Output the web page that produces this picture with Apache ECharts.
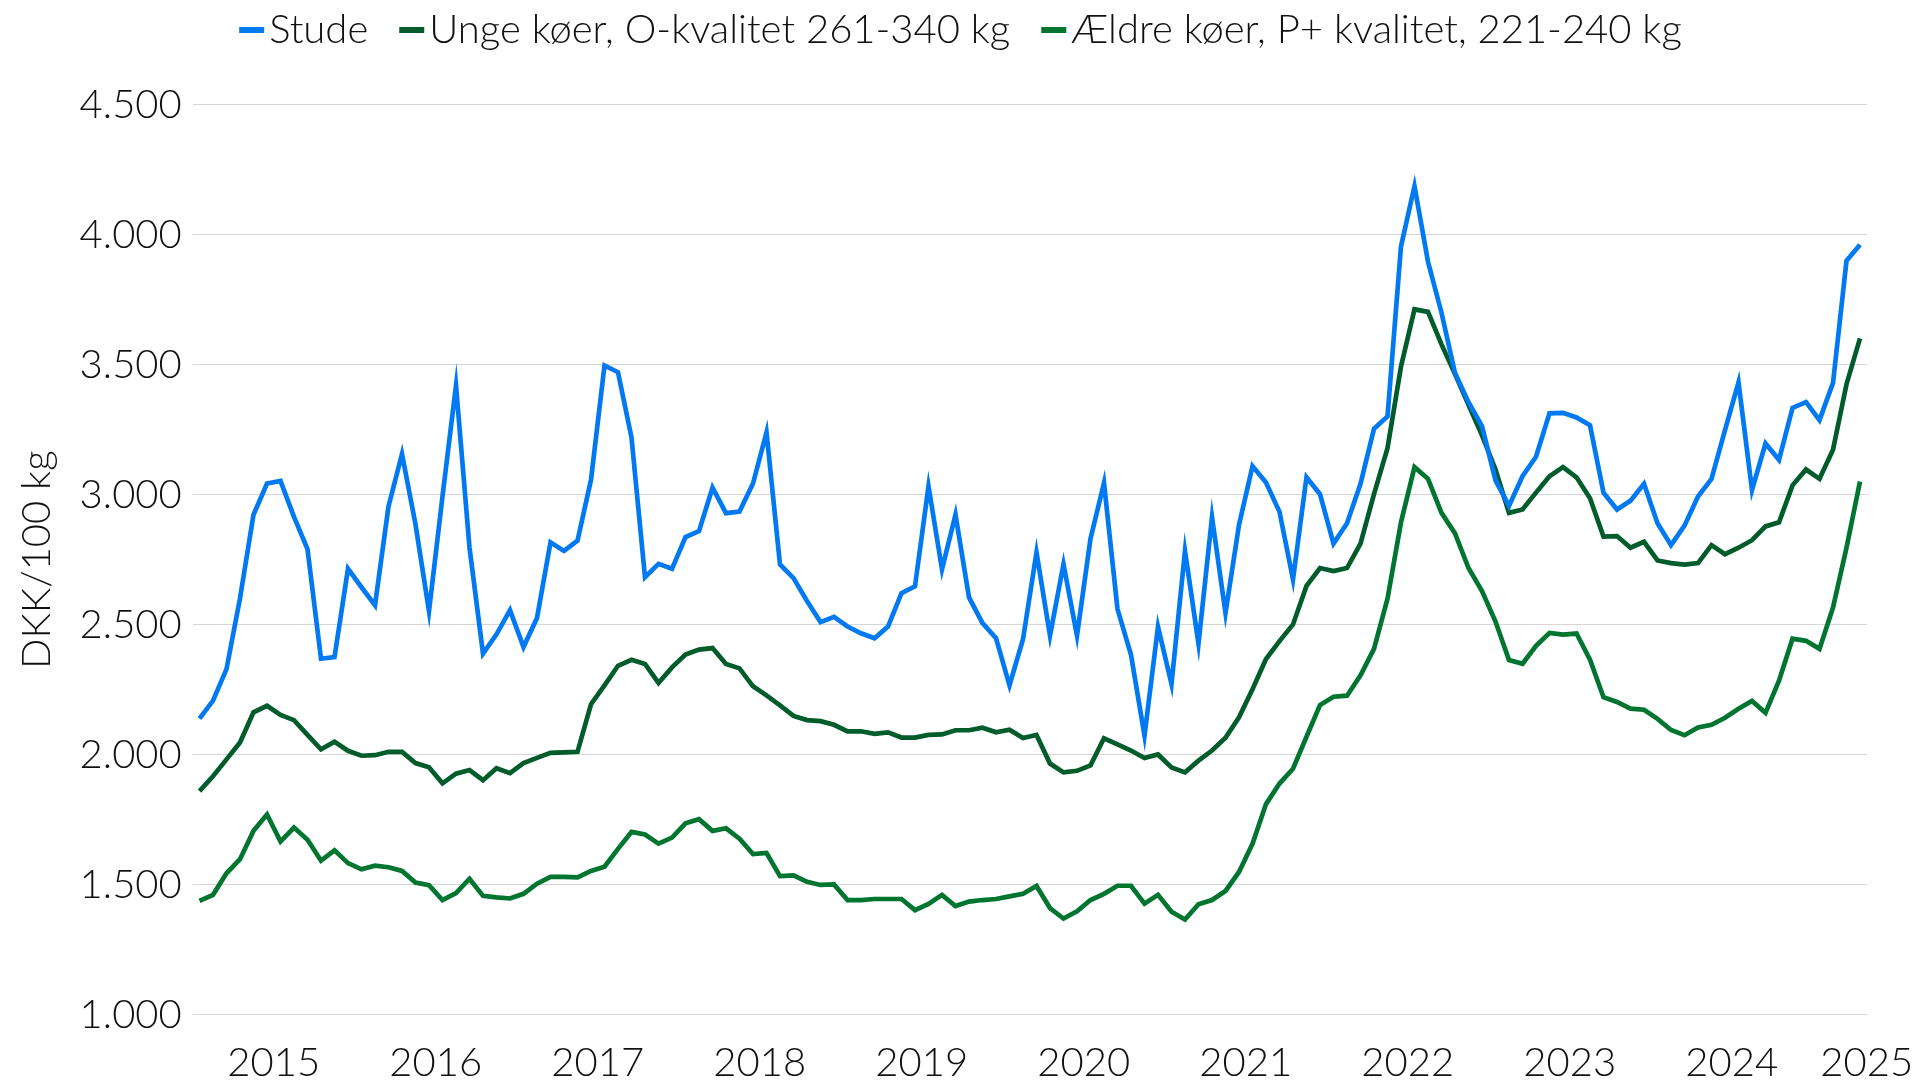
<!DOCTYPE html>
<html>
<head>
<meta charset="utf-8">
<title>Kvægpriser</title>
<script src="https://cdn.jsdelivr.net/npm/echarts@6/dist/echarts.min.js"></script>
<style>
  html, body { margin: 0; padding: 0; background: #ffffff; }
  #chart { width: 1921px; height: 1084px; }
</style>
</head>
<body>
<div id="chart"></div>
<script>
// Monthly prices, DKK/100 kg, from January 2015 to April 2025
const startYear = 2015;

const stude = [
  2139, 2208, 2329, 2601, 2923, 3043, 3053, 2915, 2791, 2369, 2375, 2715,
  2644, 2575, 2955, 3157, 2886, 2552, 2994, 3420, 2797, 2389, 2463, 2556,
  2414, 2526, 2817, 2784, 2823, 3057, 3497, 3471, 3220, 2683, 2734, 2715,
  2837, 2860, 3027, 2929, 2935, 3043, 3240, 2732, 2679, 2591, 2510, 2530,
  2493, 2467, 2448, 2493, 2621, 2648, 3033, 2713, 2923, 2605, 2506, 2448,
  2267, 2444, 2778, 2458, 2733, 2458, 2831, 3045, 2560, 2384, 2073, 2492,
  2272, 2784, 2427, 2914, 2545, 2884, 3110, 3047, 2934, 2674, 3067, 3002,
  2812, 2890, 3042, 3254, 3301, 3955, 4187, 3896, 3700, 3468, 3356, 3264,
  3055, 2957, 3071, 3146, 3313, 3315, 3297, 3267, 3008, 2943, 2977, 3042,
  2890, 2806, 2881, 2993, 3061, 3248, 3432, 3018, 3197, 3134, 3334, 3356,
  3287, 3430, 3900, 3961
];

const ungeKoer = [
  1860, 1917, 1982, 2047, 2163, 2188, 2153, 2133, 2076, 2021, 2050, 2015,
  1996, 1998, 2011, 2011, 1968, 1952, 1890, 1927, 1941, 1902, 1948, 1929,
  1968, 1988, 2007, 2009, 2011, 2194, 2267, 2342, 2365, 2349, 2276, 2336,
  2385, 2404, 2410, 2349, 2332, 2263, 2228, 2190, 2149, 2133, 2129, 2115,
  2090, 2090, 2080, 2086, 2066, 2066, 2076, 2078, 2094, 2094, 2104, 2086,
  2096, 2064, 2076, 1966, 1932, 1938, 1959, 2063, 2040, 2016, 1987, 2001,
  1951, 1932, 1977, 2016, 2065, 2144, 2252, 2368, 2437, 2501, 2649, 2718,
  2706, 2718, 2812, 3002, 3179, 3493, 3713, 3703, 3578, 3464, 3346, 3228,
  3097, 2930, 2943, 3008, 3071, 3106, 3067, 2986, 2839, 2841, 2796, 2819,
  2747, 2737, 2731, 2737, 2806, 2771, 2796, 2825, 2878, 2894, 3036, 3097,
  3061, 3173, 3425, 3601
];

const aeldreKoer = [
  1438, 1461, 1544, 1598, 1707, 1770, 1666, 1720, 1673, 1593, 1632, 1583,
  1559, 1573, 1567, 1553, 1508, 1498, 1441, 1468, 1523, 1457, 1451, 1447,
  1465, 1504, 1530, 1530, 1528, 1553, 1569, 1638, 1703, 1693, 1658, 1681,
  1736, 1752, 1707, 1717, 1677, 1618, 1622, 1533, 1536, 1511, 1499, 1501,
  1441, 1441, 1445, 1445, 1445, 1402, 1426, 1461, 1418, 1435, 1441, 1445,
  1455, 1465, 1495, 1410, 1370, 1398, 1441, 1465, 1496, 1496, 1427, 1461,
  1396, 1366, 1425, 1441, 1476, 1549, 1657, 1810, 1889, 1946, 2069, 2191,
  2223, 2227, 2305, 2407, 2600, 2894, 3106, 3061, 2930, 2851, 2718, 2629,
  2512, 2364, 2350, 2419, 2468, 2462, 2466, 2365, 2221, 2203, 2177, 2173,
  2138, 2095, 2075, 2105, 2115, 2142, 2177, 2207, 2161, 2285, 2446, 2438,
  2407, 2566, 2796, 3051
];

const seriesNames = [
  'Stude',
  'Unge køer, O-kvalitet 261-340 kg',
  'Ældre køer, P+ kvalitet, 221-240 kg'
];

const yearLabels = ['2015', '2016', '2017', '2018', '2019', '2020',
                    '2021', '2022', '2023', '2024', '2025'];

const yTicks = ['1.000', '1.500', '2.000', '2.500', '3.000', '3.500', '4.000', '4.500'];

const colors = ['#0079F2', '#005C2A', '#00752F'];
const FONT = 'Lato';

// month index -> [x, y] pairs on the value x axis
const toPoints = arr => arr.map((v, i) => [i, v]);
const lastIndex = stude.length - 1;

// Year labels sit in the middle of each year; the final one is pinned to the axis end
const yearPositions = yearLabels.map((y, i) => Math.min(i * 12 + 5.5, lastIndex + 0.5));

const chart = echarts.init(document.getElementById('chart'), null, { renderer: 'canvas' });

const lineSeries = [stude, ungeKoer, aeldreKoer].map((arr, i) => ({
  name: seriesNames[i],
  type: 'line',
  data: toPoints(arr),
  showSymbol: false,
  symbol: 'none',
  lineStyle: { width: 4.7, color: colors[i], join: 'miter' },
  itemStyle: { color: colors[i] },
  z: 10 - i,
  animation: false
}));

chart.setOption({
  backgroundColor: '#ffffff',
  animation: false,
  textStyle: { fontFamily: FONT },
  legend: {
    top: 5,
    left: 'center',
    icon: 'rect',
    itemWidth: 25,
    itemHeight: 6,
    itemGap: 31,
    textStyle: { fontFamily: FONT, fontSize: 40, fontWeight: 300, color: '#111111', padding: [0, 0, 0, 0] },
    data: seriesNames
  },
  grid: {
    left: 192.75,
    right: 54.25,
    top: 104.7,
    bottom: 69.3
  },
  xAxis: {
    type: 'value',
    min: -0.5,
    max: lastIndex + 0.5,
    axisLine: { show: false },
    axisTick: { show: false },
    splitLine: { show: false },
    axisLabel: {
      customValues: yearPositions,
      formatter: v => yearLabels[yearPositions.indexOf(v)],
      fontFamily: FONT,
      fontSize: 40,
      fontWeight: 300,
      color: '#111111',
      margin: 28
    }
  },
  yAxis: {
    type: 'value',
    min: 1000,
    max: 4500,
    interval: 500,
    name: 'DKK/100 kg',
    nameLocation: 'middle',
    nameGap: 136,
    nameRotate: 90,
    nameTextStyle: { fontFamily: FONT, fontSize: 40, fontWeight: 300, color: '#111111' },
    axisLine: { show: false },
    axisTick: { show: false },
    splitLine: { show: true, lineStyle: { color: '#d6d6d6', width: 1.2 } },
    axisLabel: {
      formatter: v => yTicks[Math.round((v - 1000) / 500)],
      fontFamily: FONT,
      fontSize: 40,
      fontWeight: 300,
      color: '#111111',
      margin: 11
    }
  },
  series: lineSeries
});
</script>
</body>
</html>
